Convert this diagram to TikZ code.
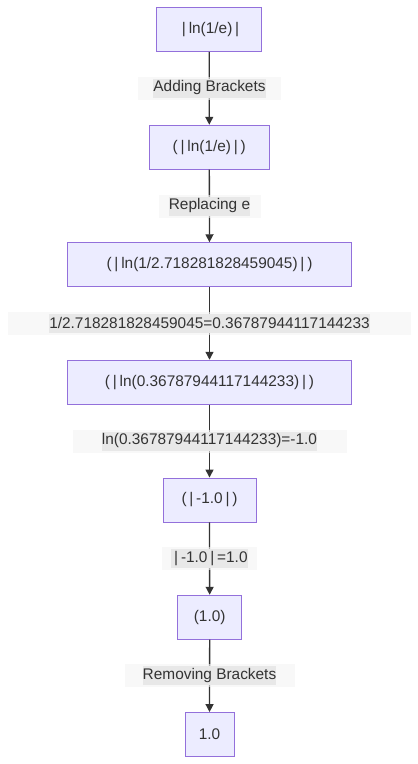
\documentclass[tikz,border=0pt]{standalone}
\usepackage{fontspec}
\setmainfont{Liberation Sans}
\usetikzlibrary{arrows.meta}
\definecolor{nodefill}{HTML}{ECECFF}
\definecolor{nodeline}{HTML}{9370DB}
\definecolor{txt}{HTML}{333333}
\definecolor{lblin}{HTML}{E8E8E8}
\definecolor{lblout}{HTML}{F3F3F3}
\newcommand{\pp}{\hspace{2.8pt}|\hspace{2.8pt}}
\tikzset{
  stepbox/.style={draw=nodeline, fill=nodefill, line width=0.9pt, inner sep=0pt,
    minimum height=44pt, text=txt, font=\fontsize{15.4}{18}\selectfont},
  flow/.style={draw=txt, line width=1.3pt, -{Triangle[length=8pt,width=8pt]}},
  lblbg/.style={fill=lblout, fill opacity=0.6, inner sep=0pt, minimum height=23pt},
  lbltxt/.style={fill=lblin, inner sep=0pt, minimum height=19pt, text=txt,
    font=\fontsize{15.4}{18}\selectfont},
}
\begin{document}
\begin{tikzpicture}[x=1pt,y=-1pt]
\useasboundingbox (0,0) rectangle (418,764);
% nodes
\node[stepbox, minimum width=105pt] (n1) at (209.2,29.5) {\pp ln(1/e)\pp};
\node[stepbox, minimum width=120pt] (n2) at (209.3,147.2) {(\pp ln(1/e)\pp)};
\node[stepbox, minimum width=284pt] (n3) at (209.5,264.7) {(\pp ln(1/2.718281828459045)\pp)};
\node[stepbox, minimum width=284pt] (n4) at (209.5,382.2) {(\pp ln(0.36787944117144233)\pp)};
\node[stepbox, minimum width=93pt] (n5) at (209.5,500) {(\pp -1.0\pp)};
\node[stepbox, minimum width=64pt] (n6) at (209.7,617.2) {(1.0)};
\node[stepbox, minimum width=49pt] (n7) at (209.5,734.5) {1.0};
% edges
\draw[flow] (n1) -- (n2);
\draw[flow] (n2) -- (n3);
\draw[flow] (n3) -- (n4);
\draw[flow] (n4) -- (n5);
\draw[flow] (n5) -- (n6);
\draw[flow] (n6) -- (n7);
% edge labels
\node[lblbg, minimum width=143pt] (b1) at (209.5,88) {};
\node[lbltxt] (l1) at (209.5,88) {Adding Brackets};
\node[lblbg, minimum width=102pt] (b2) at (209.5,206) {};
\node[lbltxt] (l2) at (209.5,206) {Replacing e};
\node[lblbg, minimum width=403pt] (b3) at (209.5,323) {};
\node[lbltxt] (l3) at (209.5,323) {1/2.718281828459045=0.36787944117144233};
\node[lblbg, minimum width=274pt] (b4) at (209.5,441) {};
\node[lbltxt] (l4) at (209.5,441) {ln(0.36787944117144233)=-1.0};
\node[lblbg, minimum width=95pt] (b5) at (209.5,558.5) {};
\node[lbltxt] (l5) at (209.5,558.5) {\pp -1.0\pp =1.0};
\node[lblbg, minimum width=170pt] (b6) at (209.5,675.5) {};
\node[lbltxt] (l6) at (209.5,675.5) {Removing Brackets};
\end{tikzpicture}
\end{document}
